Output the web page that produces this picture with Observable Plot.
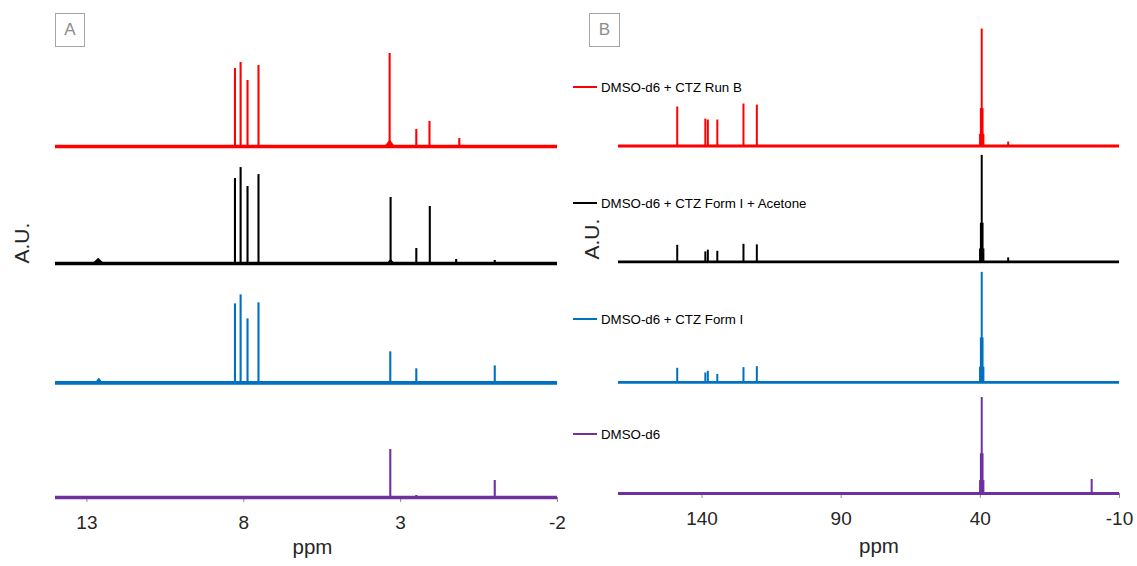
<!DOCTYPE html>
<html><head><meta charset="utf-8">
<script src="https://cdn.jsdelivr.net/npm/d3@7"></script>
<script src="https://cdn.jsdelivr.net/npm/@observablehq/plot@0.6"></script>
<style>
body{margin:0;background:#fff;font-family:"Liberation Sans",Arial,sans-serif;}
#wrap{position:relative;width:1137px;height:566px;overflow:hidden;background:#fff;}
.panel{position:absolute;top:0;}
.box{position:absolute;border:1px solid #a6a6a6;color:#8c8c8c;font-size:17px;line-height:32px;text-align:center;box-sizing:border-box;}
.leg{position:absolute;left:573px;height:16px;margin-top:-8px;font-size:13.3px;display:flex;align-items:center;white-space:nowrap;color:#000;}
.leg i{display:inline-block;width:24px;height:2px;margin-right:4px;}
</style></head><body><div id="wrap"></div>
<script>
// ---- series ----
const seriesNames = ["DMSO-d6 + CTZ Run B", "DMSO-d6 + CTZ Form I + Acetone", "DMSO-d6 + CTZ Form I", "DMSO-d6"];
const seriesColors = ["#ff0000", "#000000", "#0070c0", "#7030a0"];

// ---- panel A: 1H spectra (ppm, relative intensity) ----
const ticksA = [13, 8, 3, -2];
const domainA = [14, -2];
const offsetsA = [3.0, 2.0, 0.98, 0];
const runB_A = [[8.28,0.667],[8.10,0.718],[7.88,0.564],[7.53,0.692],[3.35,0.795],[2.50,0.145],[2.08,0.214],[1.13,0.068]];
const acetone_A = [[8.28,0.726],[8.10,0.82],[7.88,0.658],[7.53,0.76],[3.32,0.564],[2.50,0.128],[2.07,0.487],[1.23,0.034],[0.0,0.026]];
const formI_A = [[8.28,0.675],[8.10,0.752],[7.88,0.547],[7.53,0.684],[3.33,0.265],[2.50,0.12],[0.0,0.145]];
const dmso_A = [[3.33,0.41],[2.50,0.017],[0.0,0.145]];
// broad bumps: [series index, ppm, half width, height]
const broadA = [[0,3.35,0.14,0.05],[1,12.64,0.16,0.04],[1,3.32,0.1,0.03],[2,12.62,0.1,0.035]];

// ---- panel B: 13C spectra ----
const ticksB = [140, 90, 40, -10];
const domainB = [170, -10];
const offsetsB = [2.97, 1.98, 0.95, 0];
const runB_B = [[148.9,0.333],[138.8,0.23],[137.9,0.222],[134.5,0.222],[125.1,0.359],[120.3,0.35],[40.1,0.1],[39.8,0.32],[39.5,1.0],[39.2,0.32],[38.9,0.1],[30.0,0.034]];
const acetone_B = [[148.9,0.141],[138.8,0.085],[137.9,0.10],[134.5,0.09],[125.1,0.15],[120.3,0.145],[40.1,0.11],[39.8,0.33],[39.5,0.91],[39.2,0.33],[38.9,0.11],[30.0,0.034]];
const formI_B = [[148.9,0.12],[138.8,0.08],[137.9,0.094],[134.5,0.068],[125.1,0.126],[120.3,0.134],[40.1,0.13],[39.8,0.38],[39.5,0.94],[39.2,0.38],[38.9,0.13]];
const dmso_B = [[40.1,0.11],[39.8,0.34],[39.5,0.82],[39.2,0.34],[38.9,0.11],[0.0,0.12]];
const broadB = [];

const FONT = '"Liberation Sans", Arial, sans-serif';

function panel({domain, ticks, offsets, peaks, broad, width, ml, mr, mt, mb, baseW, peakW, auDx, ppmDx, ppmDy}) {
  const baseData = seriesNames.map((n, i) => ({name: n, color: seriesColors[i], offset: offsets[i]})).reverse();
  const peakData = peaks.flatMap((list, i) => list.map(([ppm, h]) => ({ppm, y1: offsets[i], y2: offsets[i] + h, color: seriesColors[i]})));
  const bumpData = broad.flatMap(([i, ppm, w, h]) =>
    [[ppm + w, offsets[i]], [ppm, offsets[i] + h], [ppm - w, offsets[i]]].map(([x, y]) => ({x, y, k: i + "-" + ppm, color: seriesColors[i]})));
  return Plot.plot({
    width, height: 566,
    marginLeft: ml, marginRight: mr, marginTop: mt, marginBottom: mb,
    x: {domain},
    y: {domain: [0, 4], axis: null},
    color: {type: "identity"},
    style: {fontFamily: FONT, background: "transparent", overflow: "visible"},
    marks: [
      Plot.axisX(ticks, {tickSize: 5, tickPadding: 13, stroke: "#8c8c8c", fill: "#262626", fontSize: 19, label: null, tickFormat: d => String(d)}),
      Plot.ruleY(baseData, {y: "offset", stroke: "color", strokeWidth: baseW}),
      Plot.line(bumpData, {x: "x", y: "y", z: "k", stroke: "color", fill: "color", strokeWidth: 1.5}),
      Plot.ruleX(peakData, {x: "ppm", y1: "y1", y2: "y2", stroke: "color", strokeWidth: peakW}),
      Plot.text(["ppm"], {frameAnchor: "bottom", dy: ppmDy, dx: ppmDx, fontSize: 20.5, fill: "#262626"}),
      Plot.text(["A.U."], {frameAnchor: "left", dx: auDx, rotate: -90, fontSize: 21, fill: "#262626"})
    ]
  });
}

const wrap = document.getElementById("wrap");

const pA = panel({domain: domainA, ticks: ticksA, offsets: offsetsA, peaks: [runB_A, acetone_A, formI_A, dmso_A], broad: broadA,
  width: 570, ml: 55, mr: 13, mt: 29, mb: 69, baseW: 3.7, peakW: 2.1, auDx: -33, ppmDx: 6, ppmDy: 56});
pA.classList.add("panel"); pA.style.left = "0px";
wrap.appendChild(pA);

const pB = panel({domain: domainB, ticks: ticksB, offsets: offsetsB, peaks: [runB_B, acetone_B, formI_B, dmso_B], broad: broadB,
  width: 567, ml: 48, mr: 18, mt: 25, mb: 73, baseW: 2.8, peakW: 2, auDx: -26, ppmDx: 10, ppmDy: 59});
pB.classList.add("panel"); pB.style.left = "570px";
wrap.appendChild(pB);

// panel letter boxes
const boxLabels = ["A", "B"];
const boxLeft = [55, 589];
boxLabels.forEach((t, i) => {
  const b = document.createElement("div");
  b.className = "box"; b.textContent = t;
  Object.assign(b.style, {left: boxLeft[i] + "px", top: "13px", width: (i ? 31 : 30) + "px", height: "34px"});
  wrap.appendChild(b);
});

// legend for panel B
const legendTop = [87, 203, 319, 434];
seriesNames.forEach((n, i) => {
  const l = document.createElement("div");
  l.className = "leg"; l.style.top = legendTop[i] + "px";
  const sw = document.createElement("i"); sw.style.background = seriesColors[i];
  l.appendChild(sw); l.appendChild(document.createTextNode(n));
  wrap.appendChild(l);
});
</script></body></html>
